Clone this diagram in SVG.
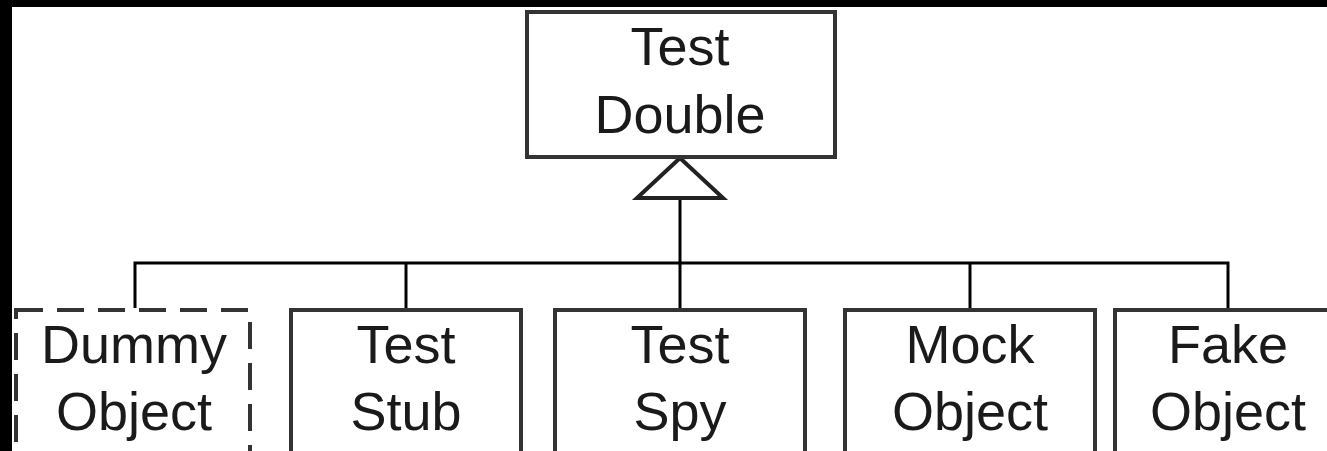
<svg xmlns="http://www.w3.org/2000/svg" width="1327" height="451" viewBox="0 0 1327 451">
<style>
.box{fill:#fff;stroke:#333;stroke-width:4}
.dash{stroke-dasharray:27 14}
.t{font-family:"Liberation Sans",Arial,sans-serif;font-size:54px;fill:#1a1a1a;text-anchor:middle}
.c{fill:none;stroke:#000;stroke-width:3}
</style>
<rect x="0" y="0" width="1327" height="451" fill="#fff"/>
<rect x="0" y="0" width="1327" height="7" fill="#000"/>
<rect x="0" y="0" width="12" height="451" fill="#000"/>
<g id="connectors">
<polyline class="c" points="135,308 135,263 1228,263 1228,308"/>
<line class="c" x1="406" y1="263" x2="406" y2="309"/>
<line class="c" x1="970" y1="263" x2="970" y2="309"/>
<line class="c" x1="680" y1="198" x2="680" y2="309"/>
<polygon points="680,158 637,198 723,198" fill="#fff" stroke="#222" stroke-width="4" stroke-linejoin="miter"/>
</g>
<g id="test-double">
<rect class="box" x="527" y="12" width="308" height="145"/>
<text class="t" x="680" y="65">Test</text>
<text class="t" x="680" y="133">Double</text>
</g>
<g id="dummy-object">
<rect class="box dash" x="16" y="310" width="234" height="160"/>
<text class="t" x="134" y="363">Dummy</text>
<text class="t" x="134" y="430">Object</text>
</g>
<g id="test-stub">
<rect class="box" x="291" y="310" width="230" height="160"/>
<text class="t" x="406" y="363">Test</text>
<text class="t" x="406" y="430">Stub</text>
</g>
<g id="test-spy">
<rect class="box" x="555" y="310" width="250" height="160"/>
<text class="t" x="680" y="363">Test</text>
<text class="t" x="680" y="430">Spy</text>
</g>
<g id="mock-object">
<rect class="box" x="845" y="310" width="250" height="160"/>
<text class="t" x="970" y="363">Mock</text>
<text class="t" x="970" y="430">Object</text>
</g>
<g id="fake-object">
<rect class="box" x="1115" y="310" width="250" height="160"/>
<text class="t" x="1228" y="363">Fake</text>
<text class="t" x="1228" y="430">Object</text>
</g>
</svg>
